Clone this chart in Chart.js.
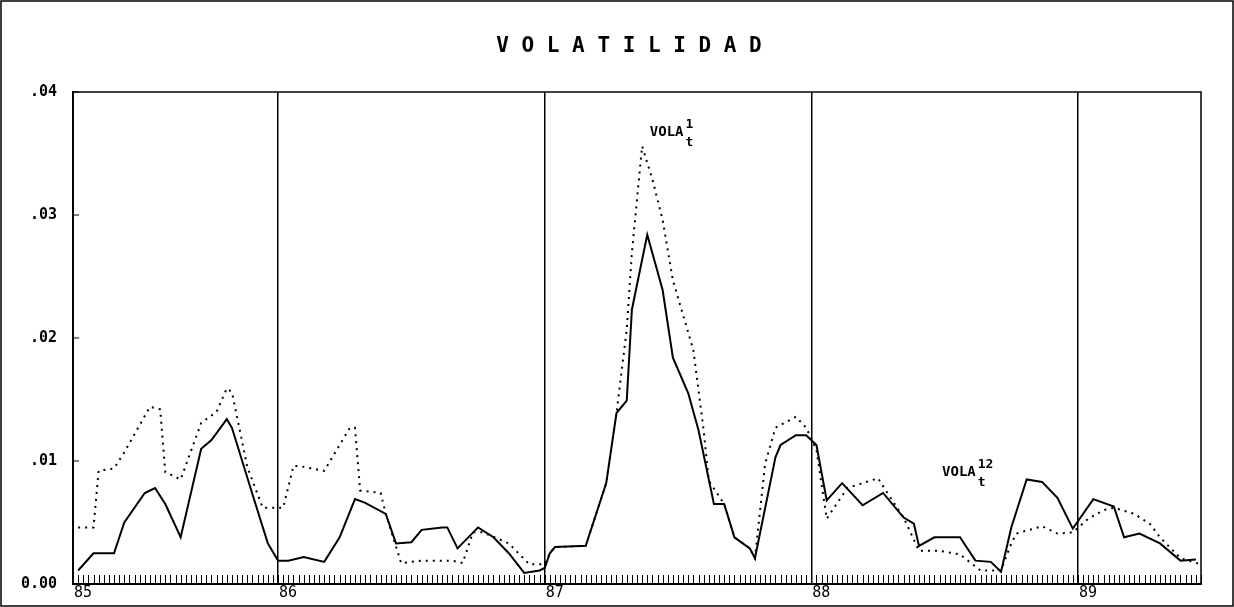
<!DOCTYPE html>
<html><head><meta charset="utf-8">
<script src="https://cdn.jsdelivr.net/npm/chart.js@4/dist/chart.umd.min.js"></script>
<style>html,body{margin:0;padding:0;background:#fff}#w{width:1234px;height:607px}</style>
</head><body><div id="w"><canvas id="c"></canvas></div>
<script>
const TITLE = "V O L A T I L I D A D";
const yearLabels = ["85","86","87","88","89"];
const yearWeeks = [0,40,92,144,196];
const lastWeek = 220;
// VOLA 12 (solid)
const vola12Weeks = [1,4,8,10,14,16,18,21,25,27,30,31,35,38,40,42,45,49,52,55,57,61,63,66,68,72,73,75,79,82,85,88,91,92,93,94,100,104,106,108,109,112,115,117,120,122,125,127,129,132,133,137,138,141,143,145,147,150,154,158,162,164,165,168,173,176,179,181,183,186,189,192,195,199,203,205,208,212,216,219];
const vola12 = [0.0011,0.0025,0.0025,0.0050,0.0074,0.0078,0.0065,0.0038,0.0110,0.0117,0.0134,0.0127,0.0073,0.0033,0.0019,0.0019,0.0022,0.0018,0.0038,0.0069,0.0066,0.0057,0.0033,0.0034,0.0044,0.0046,0.0046,0.0029,0.0046,0.0038,0.0025,0.0009,0.0011,0.0013,0.0025,0.0030,0.0031,0.0082,0.0139,0.0149,0.0223,0.0284,0.0239,0.0184,0.0155,0.0125,0.0065,0.0065,0.0038,0.0029,0.0021,0.0103,0.0113,0.0121,0.0121,0.0113,0.0068,0.0082,0.0064,0.0074,0.0054,0.0049,0.0031,0.0038,0.0038,0.0019,0.0018,0.0010,0.0046,0.0085,0.0083,0.0070,0.0045,0.0069,0.0063,0.0038,0.0041,0.0033,0.0019,0.0020];
// VOLA 1 (dotted)
const vola1Weeks = [1,4,5,8,10,15,17,18,21,25,28,30,31,34,37,41,43,44,49,54,55,56,60,61,64,68,74,76,78,80,85,89,92,93,94,100,104,106,108,109,111,113,115,117,121,123,124,127,129,132,133,135,137,141,143,145,147,151,154,157,159,162,165,169,173,177,181,183,184,189,192,195,198,201,203,207,210,212,216,220];
const vola1 = [0.0046,0.0046,0.0092,0.0094,0.0107,0.0144,0.0142,0.0091,0.0085,0.0131,0.0140,0.0159,0.0156,0.0095,0.0062,0.0062,0.0096,0.0096,0.0092,0.0127,0.0127,0.0076,0.0074,0.0057,0.0017,0.0019,0.0019,0.0017,0.0042,0.0042,0.0033,0.0016,0.0016,0.0025,0.0030,0.0031,0.0082,0.0139,0.0207,0.0269,0.0356,0.0329,0.0296,0.0247,0.0190,0.0125,0.0084,0.0065,0.0038,0.0029,0.0021,0.0098,0.0127,0.0136,0.0127,0.0109,0.0053,0.0078,0.0082,0.0086,0.0073,0.0054,0.0027,0.0027,0.0024,0.0011,0.0011,0.0033,0.0041,0.0047,0.0041,0.0042,0.0053,0.0060,0.0062,0.0057,0.0049,0.0038,0.0021,0.0016];
const yTicks = [0,0.01,0.02,0.03,0.04];
const yTickLabels = ["0.00",".01",".02",".03",".04"];
const annotations = [{text:"VOLA",sup:"1",sub:"t",week:112.5,value:0.0364},{text:"VOLA",sup:"12",sub:"t",week:169.5,value:0.0088}];

const FONT = "'DejaVu Sans Mono', monospace";
const deco = {
  id:'deco',
  afterDraw(ch){
    const c=ch.ctx, x=ch.scales.x, y=ch.scales.y, a=ch.chartArea;
    c.save();
    c.strokeStyle='#000'; c.lineWidth=1.5;
    c.strokeRect(1,1,ch.width-2,ch.height-2);
    c.strokeRect(a.left,a.top,a.right-a.left,a.bottom-a.top);
    // weekly minor ticks
    c.lineWidth=1;
    for(let w=0;w<=lastWeek;w++){const px=Math.round(x.getPixelForValue(w))+0.5;c.beginPath();c.moveTo(px,a.bottom);c.lineTo(px,a.bottom-9);c.stroke();}
    // y ticks inward
    yTicks.forEach(v=>{const py=y.getPixelForValue(v);c.beginPath();c.moveTo(a.left,py);c.lineTo(a.left+6,py);c.stroke();});
    // title
    c.fillStyle='#000'; c.font="bold 21px "+FONT; c.textAlign='center'; c.textBaseline='middle';
    c.fillText(TITLE,(a.left+a.right)/2-8,47);
    // annotations
    annotations.forEach(n=>{
      const px=x.getPixelForValue(n.week), py=y.getPixelForValue(n.value);
      c.textAlign='left'; c.textBaseline='alphabetic';
      c.font="bold 14px "+FONT; c.fillText(n.text,px,py);
      const w=c.measureText(n.text).width;
      c.font="bold 13px "+FONT; c.fillText(n.sup,px+w+2,py-8); c.fillText(n.sub,px+w+2,py+10);
    });
    c.restore();
  }
};
new Chart(document.getElementById('c'),{
  type:'line',
  data:{datasets:[
    {label:'VOLA12',data:vola12Weeks.map((w,i)=>({x:w,y:vola12[i]})),borderColor:'#000',borderWidth:2,pointRadius:0,tension:0},
    {label:'VOLA1',data:vola1Weeks.map((w,i)=>({x:w,y:vola1[i]})),borderColor:'#000',borderWidth:2,borderDash:[2,5],pointRadius:0,tension:0}
  ]},
  options:{
    responsive:true,maintainAspectRatio:false,animation:false,
    layout:{padding:{left:8,right:33,top:92,bottom:0}},
    plugins:{legend:{display:false},tooltip:{enabled:false},title:{display:false}},
    scales:{
      x:{type:'linear',min:0,max:lastWeek,
        afterBuildTicks(s){s.ticks=yearWeeks.map(v=>({value:v}));},
        afterFit(s){s.height=23;},
        ticks:{autoSkip:false,maxRotation:0,color:'#000',font:{family:FONT,size:15},labelOffset:10,padding:0,
          callback:(v)=>yearLabels[yearWeeks.indexOf(v)]},
        grid:{color:'#000',lineWidth:1.5,drawTicks:false},
        border:{color:'#000',width:2}},
      y:{min:0,max:0.04,
        afterBuildTicks(s){s.ticks=yTicks.map(v=>({value:v}));},
        afterFit(s){s.width=65;},
        ticks:{color:'#000',font:{family:FONT,size:15,weight:'bold'},padding:8,
          callback:(v)=>yTickLabels[yTicks.indexOf(v)]},
        grid:{display:false},
        border:{color:'#000',width:2}}
    }
  },
  plugins:[deco]
});
</script></body></html>
